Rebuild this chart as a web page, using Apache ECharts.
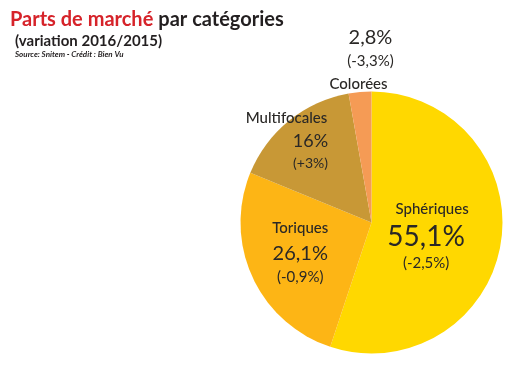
<!DOCTYPE html>
<html><head><meta charset="utf-8">
<script src="https://cdn.jsdelivr.net/npm/echarts@6/dist/echarts.min.js"></script>
<style>html,body{margin:0;padding:0;background:#fff}#c{width:521px;height:366px}</style>
</head><body><div id="c"></div>
<script>
const categories = ['Sphériques', 'Toriques', 'Multifocales', 'Colorées'];
const shares = [55.1, 26.1, 16, 2.8];
const shareLabels = ['55,1%', '26,1%', '16%', '2,8%'];
const variations = ['(-2,5%)', '(-0,9%)', '(+3%)', '(-3,3%)'];
const colors = ['#FFD800', '#FDB515', '#C89836', '#F59B55'];

const FONT = 'Lato';
const dark = '#2a2826';
const richBase = {
  nSph: {fontFamily: FONT, fontSize: 15, fontWeight: 500, color: dark, lineHeight: 26, padding: [0, 0, 0, 12]},
  n: {fontFamily: FONT, fontSize: 15, fontWeight: 500, color: dark, lineHeight: 24},
  nMul: {fontFamily: FONT, fontSize: 15, fontWeight: 500, color: dark, lineHeight: 24, padding: [0, 48, 0, 0]},
  nCol: {fontFamily: FONT, fontSize: 15, fontWeight: 500, color: dark, lineHeight: 24, padding: [0, 24, 0, 0]},
  pBig: {fontFamily: FONT, fontSize: 28, color: dark, lineHeight: 30},
  pMid: {fontFamily: FONT, fontSize: 20, color: dark, lineHeight: 26},
  pMul: {fontFamily: FONT, fontSize: 18, color: dark, lineHeight: 22},
  vMul: {fontFamily: FONT, fontSize: 14, color: dark, lineHeight: 22},
  v: {fontFamily: FONT, fontSize: 15, color: dark, lineHeight: 22}
};
const fmt = [
  i => `{nSph|${categories[i]}}\n{pBig|${shareLabels[i]}}\n{v|${variations[i]}}`,
  i => `{n|${categories[i]}}\n{pMid|${shareLabels[i]}}\n{v|${variations[i]}}`,
  i => `{nMul|${categories[i]}}\n{pMul|${shareLabels[i]}}\n{vMul|${variations[i]}}`,
  i => `{pMid|${shareLabels[i]}}\n{v|${variations[i]}}\n{nCol|${categories[i]}}`
];
const shifts = [[-13, 2], [-9, 1], [-18, -29], [5, -94]];

const chart = echarts.init(document.getElementById('c'), null, {renderer: 'canvas'});
chart.setOption({
  animation: false,
  title: [
    {text: '{r|Parts de marché} {d|par catégories}', left: 5, top: 5,
     textStyle: {rich: {
       r: {fontFamily: FONT, fontSize: 20, fontWeight: 'bold', color: '#D6232A'},
       d: {fontFamily: FONT, fontSize: 20, fontWeight: 'bold', color: '#231F20'}}}},
    {text: '(variation 2016/2015)', left: 10, top: 29,
     textStyle: {fontFamily: FONT, fontSize: 15, fontWeight: 'bold', color: '#231F20'}},
    {text: 'Source: Snitem - Crédit : Bien Vu', left: 10, top: 45,
     textStyle: {fontFamily: FONT, fontSize: 8, fontStyle: 'italic', fontWeight: 'bold', color: '#231F20'}}
  ],
  series: [{
    type: 'pie',
    center: [371.5, 222.5],
    radius: [0, 131],
    startAngle: 90,
    clockwise: true,
    data: categories.map((c, i) => ({
      name: c, value: shares[i],
      itemStyle: {color: colors[i]},
      label: {formatter: () => fmt[i](i), rich: richBase}
    })),
    label: {show: true, position: 'inside', rich: richBase},
    labelLine: {show: false},
    labelLayout: p => ({dx: shifts[p.dataIndex][0], dy: shifts[p.dataIndex][1]}),
    itemStyle: {borderWidth: 0},
    emphasis: {disabled: true}
  }]
});
</script></body></html>
